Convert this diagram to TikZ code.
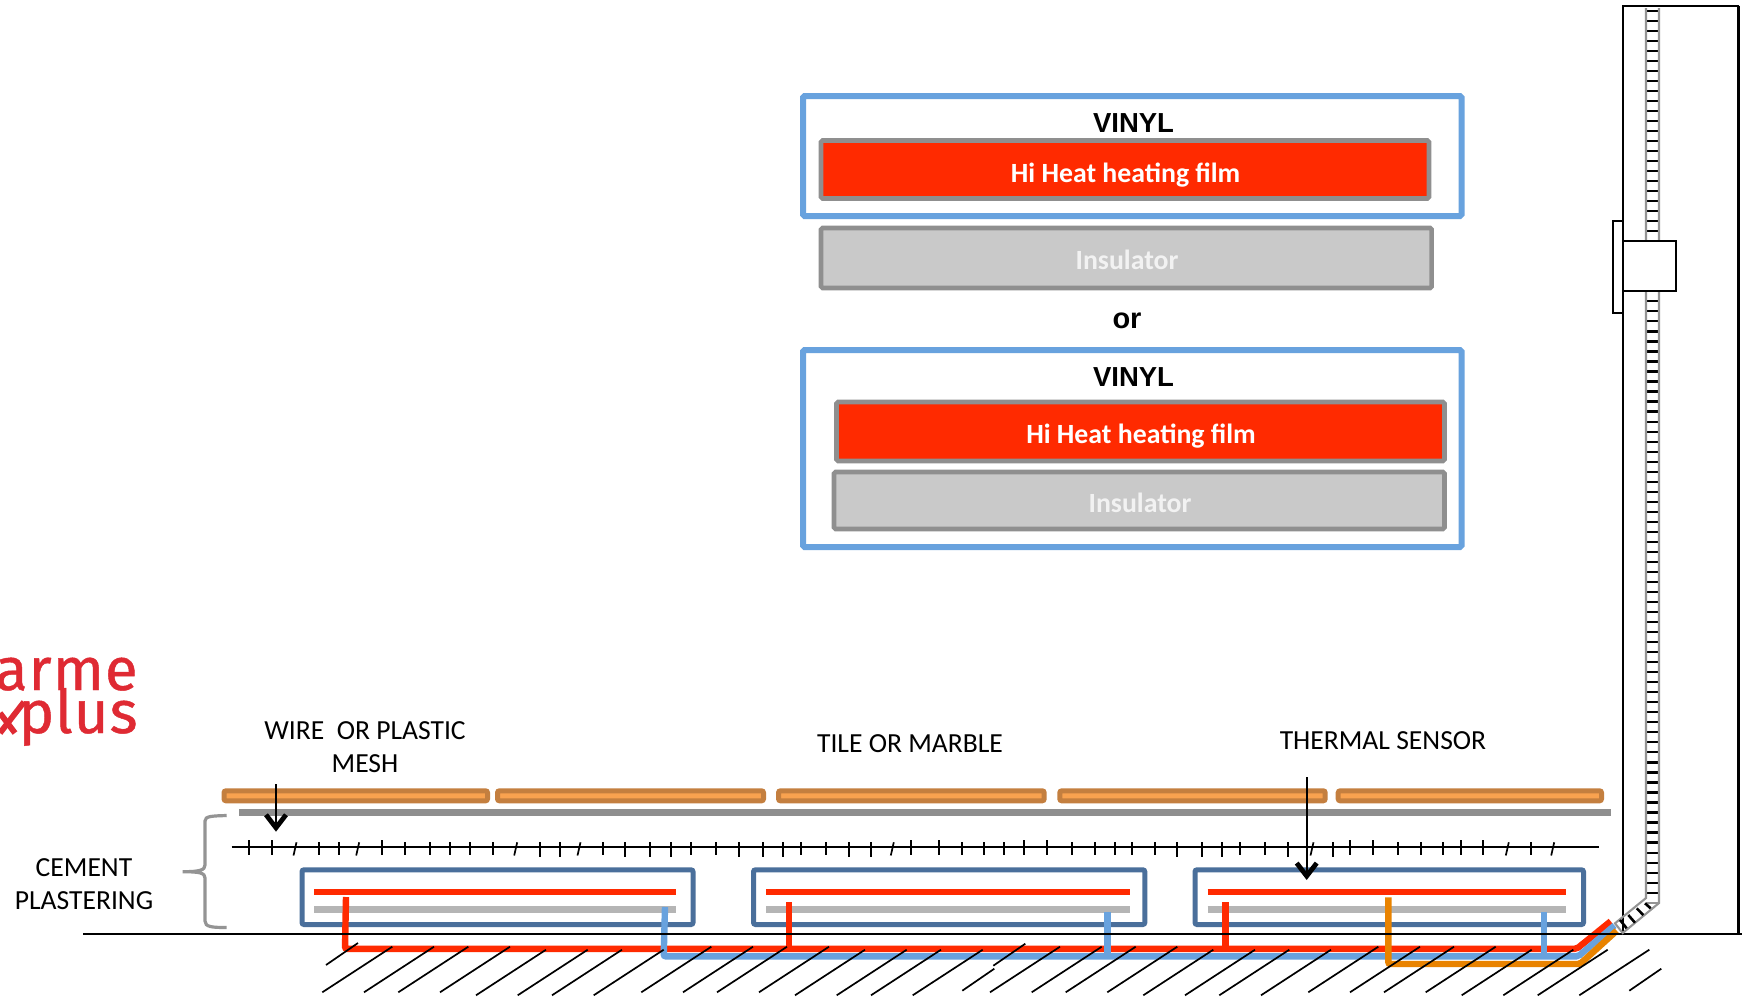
\documentclass[tikz,border=0pt]{standalone}
\usepackage{fontspec}
\usetikzlibrary{arrows.meta}
\setmainfont{Carlito}
\newfontfamily\farial{Liberation Sans}
\newfontfamily\flogo[FakeBold=0.7,LetterSpace=1.5]{Fira Sans}
\definecolor{cblue}{HTML}{68A2DE}
\definecolor{cnavy}{HTML}{4A6F9B}
\definecolor{cred}{HTML}{FF2A00}
\definecolor{cgrayb}{HTML}{8F8F8F}
\definecolor{cgrayf}{HTML}{C9C9C9}
\definecolor{cgrayl}{HTML}{B5B5B5}
\definecolor{cor}{HTML}{E98300}
\definecolor{ctile}{HTML}{C47F3F}
\definecolor{ctilef}{HTML}{F9A24F}
\definecolor{clogo}{HTML}{DF2A33}
\tikzset{
  x=0.5pt,y=-0.5pt,
  vinylbox/.style={draw=cblue,line width=3pt,rounded corners=0.8pt},
  filmbox/.style={draw=cgrayb,fill=cred,line width=2.3pt,rounded corners=0.8pt},
  insbox/.style={draw=cgrayb,fill=cgrayf,line width=2.3pt,rounded corners=0.8pt},
  tile/.style={draw=ctile,fill=ctilef,line width=2.5pt,rounded corners=1pt},
  heatbox/.style={draw=cnavy,line width=2.5pt,rounded corners=1pt},
  redwire/.style={draw=cred,line width=3.2pt},
  greywire/.style={draw=cgrayl,line width=3.3pt},
  bluewire/.style={draw=cblue,line width=3.2pt,rounded corners=1pt},
  orwire/.style={draw=cor,line width=3.2pt,rounded corners=1pt},
  label/.style={font=\fontsize{13.8}{16.5}\selectfont,align=center,text=black},
  titlet/.style={font=\farial\bfseries\fontsize{13.75}{16}\selectfont,text=black},
  filmt/.style={font=\bfseries\fontsize{13.9}{16}\selectfont,text=white},
  inst/.style={font=\bfseries\fontsize{13.9}{16}\selectfont,text=white!95!black},
  logot/.style={font=\flogo\fontsize{30}{30}\selectfont,text=clogo,inner sep=0pt},
  hatchl/.style={draw=black,line width=0.85pt},
  tickl/.style={draw=black,line width=0.85pt},
  pointer/.style={draw=black,line width=1.2pt,-{Straight Barb[length=6.5pt,width=10pt,line width=2.4pt]}},
  condside/.style={draw=black!42,line width=1.05pt},
  condtick/.style={draw=black,line width=1.1pt},
  wallline/.style={draw=black,line width=1.15pt},
}
\begin{document}
\begin{tikzpicture}
\useasboundingbox[fill=white] (0,0) rectangle (1742,997);
% logo
\node[logot,anchor=base east] (arme) at (138,690) {arme};
\node[logot,anchor=base east] (plus) at (138,733) {plus};
\draw[clogo,line width=2.9pt] (24,702) -- (0,733);
\draw[clogo,line width=2.9pt] (0,713) -- (15,733);
% upper stack
\draw[vinylbox] (803,96) rectangle (1461.5,216);
\draw[filmbox] (821,140.5) rectangle (1429,198.5);
\draw[insbox] (821,228) rectangle (1431.6,288);
\draw[vinylbox] (803,350) rectangle (1461.5,547);
\draw[filmbox] (836.5,402) rectangle (1444.5,461);
\draw[insbox] (834,472) rectangle (1444.5,529);
\node[titlet] (v1) at (1133.5,123) {VINYL};
\node[titlet] (v2) at (1133.5,377) {VINYL};
\node[titlet,font=\farial\bfseries\fontsize{14.5}{16}\selectfont] (ortext) at (1127,321) {or};
\node[filmt] (f1) at (1125.6,175) {Hi Heat heating film};
\node[filmt] (f2) at (1141,436) {Hi Heat heating film};
\node[inst] (i1) at (1127,260) {Insulator};
\node[inst] (i2) at (1140,503) {Insulator};
% labels
\node[label] (wire) at (365,747.5) {WIRE\ \ OR PLASTIC\\MESH};
\node[label] (tilet) at (910,744) {TILE OR MARBLE};
\node[label] (sensor) at (1383,741) {THERMAL SENSOR};
\node[label] (cement) at (84,884.5) {CEMENT\\PLASTERING};
% tiles
\foreach \a/\b in {224/487.5,497.5/763.5,778.5/1044.2,1059.8/1325.2,1338.2/1601.5}
  \draw[tile] (\a,790.8) rectangle (\b,800.8);
\begin{scope}[yshift=0.5pt]
% bar
\draw[draw=cgrayb,line width=3.3pt] (239,813.3) -- (1611,813.3);
% mesh
\draw[tickl] (231.7,848.3) -- (1598.5,848.3);
\foreach \x in {319,339.3,404.7,429.7,449.7,470,492.7,603,690.7,716,801,826,961.7,984.3,1004.3,1072,1094.7,1114.7,1132.3,1155,1240.3,1265,1398,1420.7,1443.3,1531}
  \draw[tickl] (\x,843.3) -- (\x,855.7);
\foreach \x in {249,271.7,382,911.3,939,1024.3,1047,1350.3,1373,1461,1483.3}
  \draw[tickl] (\x,841) -- (\x,855.7);
\foreach \x in {540,560,625.3,650.3,670.7,738.7,763.3,783.3,848.7,871.3,1177.3,1202.3,1222.3,1287.7,1332.7}
  \draw[tickl] (\x,843.3) -- (\x,858.3);
\foreach \x in {295,357.7,515.7,579,892.3,1312,1507.3,1552.7}
  \draw[tickl] (\x+1.5,843.3) -- (\x-1.5,856.5);
% heating boxes
\foreach \a/\b/\c/\d in {302/693/314.3/675.7,753.5/1144.8/766/1129.7,1195/1583.5/1207.7/1566}{
  \draw[heatbox] (\a,870.8) rectangle (\b,925.5);
  \draw[redwire] (\c,893) -- (\d,893);
  \draw[greywire] (\c,910.7) -- (\d,910.7);
}
% wires
\draw[redwire,rounded corners=1pt] (346,898) -- (345,949.8) -- (1576.7,949.8) -- (1610.7,922.3);
\draw[redwire] (788.7,903.3) -- (788.7,950);
\draw[redwire] (1225.3,903.3) -- (1225.3,950);
\draw[bluewire] (665,908) -- (663.7,957.3) -- (1578.3,957.3) -- (1614.5,926.5);
\draw[bluewire] (1107.3,913) -- (1107.3,957);
\draw[bluewire] (1544,913) -- (1544,957);
\draw[orwire] (1388.3,898.3) -- (1388.3,965) -- (1580,965) -- (1616.7,931.7);
% ground
\draw[draw=black,line width=1.1pt] (83,935) -- (1742,935);
\end{scope}
% brace
\draw[draw=black!42,line width=1.6pt] (226.7,815.5) .. controls (212,816) and (205,816) .. (205,821) -- (205,865) .. controls (205,870) and (200,871.7) .. (182.7,871.7) .. controls (200,871.7) and (205,873) .. (205,878) -- (205,921) .. controls (205,927) and (212,927.5) .. (226.7,927.5);
% wall
\draw[wallline] (1622.7,934) -- (1622.7,5.7) -- (1738.5,5.7);
\draw[draw=black,line width=1.3pt] (1738.5,5.7) -- (1738.5,934);
% conduit
\foreach \i in {0,...,88}
  \draw[condtick] (1647,10.67+10.023*\i) -- (1658,10.67+10.023*\i);
\draw[condside] (1646,8) -- (1646,898) -- (1615,923.3) -- (1622.7,933) -- (1659,903) -- (1659,8);
\draw[condside] (1646,903) -- (1659,903);
\foreach \xa/\ya/\xb/\yb in {1620/920/1626.7/928.3,1628.3/915/1635/922.7,1636.7/908.3/1643.3/915,1645/903.3/1650.7/908.3}
  \draw[condtick,line width=1.3pt] (\xa,\ya) -- (\xb,\yb);
% switch
\draw[draw=black,fill=white,line width=0.9pt] (1613.3,220.7) rectangle (1622.7,312.7);
\draw[draw=black,fill=white,line width=1.1pt] (1622.7,240.7) rectangle (1676,291);
% hatching
\foreach \x in {322.3,364,398.3,440,641.3,683,717,759,990,1031.7,1065.7,1107.3,1308.3,1350,1384,1425.7}
  \draw[hatchl] (\x,992.3) -- (\x+70,946.7);
\foreach \x in {476,517.7,552,593.7,795,836.7,871,912.7,1143.3,1185,1219.3,1261,1461.7,1503.3,1537.7,1579.3}
  \draw[hatchl] (\x,995.3) -- (\x+70,949.7);
\foreach \x/\y in {326/965,962.3/990.7,993.3/965.7,1629.3/990.7}
  \draw[hatchl] (\x,\y) -- (\x+32,\y-22);
% pointers
\coordinate (wa) at (276,784);
\coordinate (wb) at (276,831.7);
\coordinate (sa) at (1306.7,777.3);
\coordinate (sb) at (1306.7,880);
\draw[pointer] (wa) -- (wb);
\draw[pointer] (sa) -- (sb);
\end{tikzpicture}
\end{document}
